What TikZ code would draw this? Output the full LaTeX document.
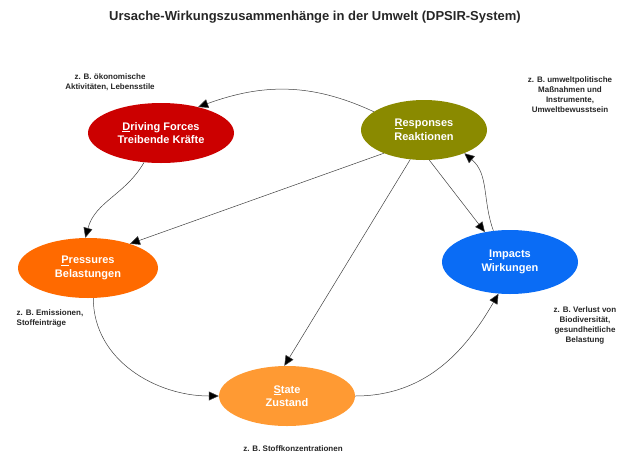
\documentclass[tikz,border=0pt]{standalone}
\usepackage{fontspec}
\setmainfont{Liberation Sans}
\usetikzlibrary{arrows.meta,shapes.geometric}
\begin{document}
\begin{tikzpicture}[x=1pt,y=-1pt,
 el/.style={ellipse,draw=none,text=white,font=\bfseries\fontsize{11}{13.5}\selectfont,align=center,inner sep=0pt},
 note/.style={font=\bfseries\fontsize{8}{10}\selectfont,align=center,text=black!85},
 arr/.style={draw=black!75,line width=0.5pt,-{Triangle[length=10pt,width=9pt,fill=black]}}]
\useasboundingbox (0,0) rectangle (640,469);
\node[font=\bfseries\fontsize{13}{15}\selectfont,text=black!85] (title) at (315,17) {Ursache-Wirkungszusammenhänge in der Umwelt (DPSIR-System)};
\definecolor{dr}{HTML}{CC0000}\definecolor{rs}{HTML}{8A8A00}\definecolor{pr}{HTML}{FF6A00}
\definecolor{im}{HTML}{0A6CF5}\definecolor{st}{HTML}{FF9A33}
\node[el,fill=dr,minimum width=146,minimum height=60] (D) at (161,133) {\underline{D}riving Forces\\Treibende Kräfte};
\node[el,fill=rs,minimum width=126,minimum height=60] (R) at (424,130) {\underline{R}esponses\\Reaktionen};
\node[el,fill=pr,minimum width=140,minimum height=60] (P) at (88,268) {\underline{P}ressures\\Belastungen};
\node[el,fill=im,minimum width=136,minimum height=64] (I) at (510,262) {\underline{I}mpacts\\Wirkungen};
\node[el,fill=st,minimum width=136,minimum height=60] (S) at (287,396) {\underline{S}tate\\Zustand};
\node[note] (nD) at (110,82) {z. B. ökonomische\\Aktivitäten, Lebensstile};
\node[note] (nR) at (570,95) {z. B. umweltpolitische\\Maßnahmen und\\Instrumente,\\Umweltbewusstsein};
\node[note,align=left] (nP) at (50,318) {z. B. Emissionen,\\Stoffeinträge};
\node[note] (nI) at (585,325) {z. B. Verlust von\\Biodiversität,\\gesundheitliche\\Belastung};
\node[note] (nS) at (293,449) {z. B. Stoffkonzentrationen};
\draw[arr] (R.160) to[out=155,in=20] (D.35);
\draw[arr] (D.240) to[out=240,in=75] (P.95);
\draw[arr] (P.-80) to[out=-90,in=180] (S.west);
\draw[arr] (S.east) to[out=0,in=-120] (I.250);
\draw[arr] (I.118) to[out=110,in=-40] (R.-30);
\draw[arr] (R.210) -- (P.30);
\draw[arr] (R.245) -- (S.95);
\draw[arr] (R.-80) -- (I.130);
\end{tikzpicture}
\end{document}
